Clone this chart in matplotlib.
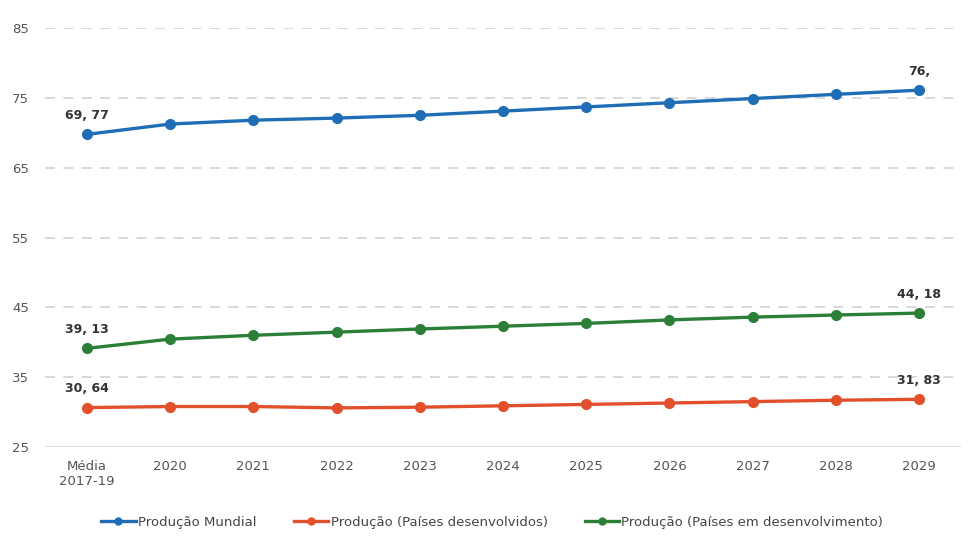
import matplotlib
matplotlib.use("Agg")
import matplotlib.pyplot as plt
from matplotlib.lines import Line2D

categories = ["Média\n2017-19", "2020", "2021", "2022", "2023", "2024",
              "2025", "2026", "2027", "2028", "2029"]
mundial = [69.77, 71.25, 71.8, 72.1, 72.5, 73.1, 73.7, 74.3, 74.9, 75.5, 76.1]
desenvolvidos = [30.64, 30.8, 30.8, 30.6, 30.7, 30.9, 31.1, 31.3, 31.5, 31.7, 31.83]
em_desenvolvimento = [39.13, 40.45, 41.0, 41.45, 41.9, 42.3, 42.7, 43.2, 43.6, 43.9, 44.18]
series_names = ["Produção Mundial", "Produção (Países desenvolvidos)",
                "Produção (Países em desenvolvimento)"]
y_ticks = [25, 35, 45, 55, 65, 75, 85]

# end-point labels as printed on the chart
labels_mundial = ["69, 77", "76,"]
labels_desenv = ["30, 64", "31, 83"]
labels_emdesenv = ["39, 13", "44, 18"]

colors = ["#1f6db5", "#e2502b", "#2c7f36"]

fig = plt.figure(figsize=(9.71, 5.47), dpi=100)
ax = fig.add_axes([0.0468, 0.1828, 0.9425, 0.7660])

x = list(range(len(categories)))
for vals, c in zip([mundial, desenvolvidos, em_desenvolvimento], colors):
    ax.plot(x, vals, color=c, lw=2.4, marker="o", ms=7, zorder=3,
            solid_capstyle="round")

for vals, labs in [(mundial, labels_mundial), (desenvolvidos, labels_desenv),
                   (em_desenvolvimento, labels_emdesenv)]:
    for i, lab in zip([0, len(vals) - 1], labs):
        ax.annotate(lab, (x[i], vals[i]), xytext=(0, 9), textcoords="offset points",
                    ha="center", va="bottom", fontsize=9, fontweight="bold",
                    color="#333333", zorder=4)

ax.set_xlim(-0.5, len(categories) - 0.5)
ax.set_ylim(25, 85)
ax.set_yticks(y_ticks)
ax.set_xticks(x)
ax.set_xticklabels(categories)
for t in y_ticks[1:]:
    ax.axhline(t, color="#d2d2d2", lw=1.2, ls=(0, (6, 5)), zorder=1)
ax.axhline(25, color="#d6d6d6", lw=1.2, zorder=1)
for s in ax.spines.values():
    s.set_visible(False)
ax.tick_params(axis="both", length=0, labelsize=9.5, labelcolor="#555555")
ax.tick_params(axis="x", pad=9)
ax.tick_params(axis="y", pad=12)

handles = [Line2D([0], [0], color=c, lw=2.4, marker="o", ms=5) for c in colors]
fig.legend(handles, series_names, loc="center", bbox_to_anchor=(0.507, 0.045),
           ncol=3, frameon=False, fontsize=9.5, handlelength=2.6, handletextpad=0.2,
           columnspacing=2.8, labelcolor="#444444")

fig.savefig("out.png", dpi=100, facecolor="white")
